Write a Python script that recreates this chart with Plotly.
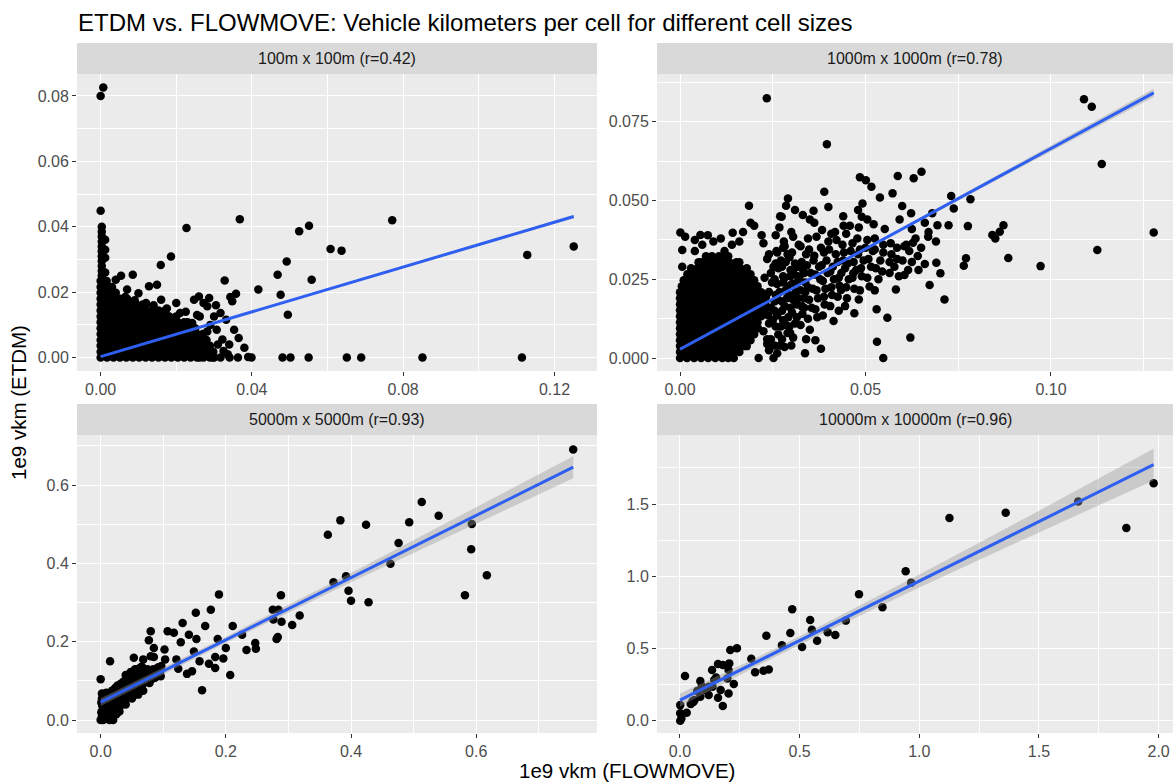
import plotly.graph_objects as go

W, H = 1173, 782
FONT = "Liberation Sans, Arial, Helvetica, sans-serif"

# ---------------- data (1e9 vkm) ----------------
titles = ["100m x 100m (r=0.42)", "1000m x 1000m (r=0.78)",
          "5000m x 5000m (r=0.93)", "10000m x 10000m (r=0.96)"]

# 100m x 100m: scattered points
tl_x = [0.0007, 0.0000, 0.0000, 0.1251, 0.1128, 0.1114, 0.0851, 0.0771, 0.0689, 0.0651,
        0.0637, 0.0608, 0.0558, 0.0551, 0.0550, 0.0525, 0.0502, 0.0495, 0.0492, 0.0481,
        0.0476, 0.0468, 0.0417, 0.0399, 0.0390, 0.0368, 0.0363, 0.0358, 0.0348, 0.0343,
        0.0341, 0.0328, 0.0317, 0.0297, 0.0262, 0.0227, 0.0186, 0.0159, 0.0085, 0.0054,
        0.0003, 0.0003, 0.0003, 0.0003, 0.0003, 0.0003, 0.0003, 0.0003, 0.0003, 0.0003,
        0.0003, 0.0003, 0.0012, 0.0012, 0.0012, 0.0012,
        0.0128, 0.0040, 0.0070, 0.0100, 0.0120, 0.0160, 0.0149, 0.0200, 0.0210, 0.0247,
        0.0260, 0.0272, 0.0287, 0.0282, 0.0300, 0.0317, 0.0332, 0.0353, 0.0307, 0.0282,
        0.0322, 0.0242, 0.0232, 0.0181, 0.0262, 0.0340, 0.0365, 0.0380, 0.0305,
        0.0065, 0.0090, 0.0140, 0.0175, 0.0225, 0.0255, 0.0290, 0.0310, 0.0325, 0.0336]
tl_y = [0.0826, 0.0800, 0.0449, 0.0340, 0.0314, 0.0000, 0.0000, 0.0420, 0.0000, 0.0000,
        0.0327, 0.0332, 0.0238, 0.0403, 0.0000, 0.0386, 0.0000, 0.0131, 0.0294, 0.0000,
        0.0192, 0.0253, 0.0208, 0.0000, 0.0002, 0.0423, 0.0000, 0.0195, 0.0172, 0.0185,
        0.0000, 0.0236, 0.0000, 0.0000, 0.0000, 0.0396, 0.0309, 0.0283, 0.0253, 0.0250,
        0.0400, 0.0385, 0.0370, 0.0355, 0.0340, 0.0325, 0.0310, 0.0295, 0.0280, 0.0265,
        0.0250, 0.0235, 0.0360, 0.0330, 0.0305, 0.0260,
        0.0218, 0.0238, 0.0208, 0.0197, 0.0167, 0.0177, 0.0223, 0.0167, 0.0136, 0.0177,
        0.0187, 0.0167, 0.0182, 0.0157, 0.0126, 0.0136, 0.0116, 0.0085, 0.0085, 0.0080,
        0.0055, 0.0106, 0.0075, 0.0126, 0.0126, 0.0040, 0.0060, 0.0030, 0.0160,
        0.0185, 0.0175, 0.0160, 0.0150, 0.0140, 0.0130, 0.0100, 0.0040, 0.0020, 0.0010]
# 100m x 100m: solid mass near the origin, row by row
tl_rows_y = [0.0000, 0.0018, 0.0036, 0.0054, 0.0072, 0.0090, 0.0108, 0.0126, 0.0144,
             0.0162, 0.0180, 0.0198, 0.0216, 0.0234]
tl_rows_x = [
    [0.0000, 0.0017, 0.0034, 0.0051, 0.0068, 0.0085, 0.0102, 0.0119, 0.0136, 0.0153,
     0.0170, 0.0187, 0.0204, 0.0221, 0.0238, 0.0255, 0.0272, 0.0289, 0.0300],
    [0.0000, 0.0009, 0.0026, 0.0043, 0.0060, 0.0077, 0.0094, 0.0111, 0.0128, 0.0145,
     0.0162, 0.0179, 0.0196, 0.0213, 0.0230, 0.0247, 0.0264, 0.0281, 0.0298],
    [0.0000, 0.0017, 0.0034, 0.0051, 0.0068, 0.0085, 0.0102, 0.0119, 0.0136, 0.0153,
     0.0170, 0.0187, 0.0204, 0.0221, 0.0238, 0.0255, 0.0272, 0.0289],
    [0.0000, 0.0009, 0.0026, 0.0043, 0.0060, 0.0077, 0.0094, 0.0111, 0.0128, 0.0145,
     0.0162, 0.0179, 0.0196, 0.0213, 0.0230, 0.0247, 0.0264, 0.0280],
    [0.0000, 0.0017, 0.0034, 0.0051, 0.0068, 0.0085, 0.0102, 0.0119, 0.0136, 0.0153,
     0.0170, 0.0187, 0.0204, 0.0221, 0.0238, 0.0255, 0.0270],
    [0.0000, 0.0009, 0.0026, 0.0043, 0.0060, 0.0077, 0.0094, 0.0111, 0.0128, 0.0145,
     0.0162, 0.0179, 0.0196, 0.0213, 0.0230, 0.0250],
    [0.0000, 0.0017, 0.0034, 0.0051, 0.0068, 0.0085, 0.0102, 0.0119, 0.0136, 0.0153,
     0.0170, 0.0187, 0.0204, 0.0221, 0.0230],
    [0.0000, 0.0009, 0.0026, 0.0043, 0.0060, 0.0077, 0.0094, 0.0111, 0.0128, 0.0145,
     0.0162, 0.0179, 0.0200],
    [0.0000, 0.0017, 0.0034, 0.0051, 0.0068, 0.0085, 0.0102, 0.0119, 0.0136, 0.0153,
     0.0170],
    [0.0000, 0.0009, 0.0026, 0.0043, 0.0060, 0.0077, 0.0094, 0.0111, 0.0120],
    [0.0000, 0.0017, 0.0034, 0.0051, 0.0070],
    [0.0000, 0.0009, 0.0026, 0.0040],
    [0.0000, 0.0017, 0.0030],
    [0.0000, 0.0009, 0.0016],
]

# 1000m x 1000m: scattered points
tr_x = [0.1277, 0.1137, 0.1125, 0.1110, 0.1089, 0.0972, 0.0885, 0.0872, 0.0862, 0.0850,
        0.0842, 0.0783, 0.0776, 0.0771, 0.0765, 0.0738, 0.0731, 0.0724, 0.0713, 0.0702,
        0.0694, 0.0691, 0.0673, 0.0669, 0.0660, 0.0651, 0.0643, 0.0641, 0.0630, 0.0628,
        0.0623, 0.0621, 0.0618, 0.0605, 0.0599, 0.0592, 0.0587, 0.0582, 0.0573, 0.0559,
        0.0548, 0.0539, 0.0531, 0.0530, 0.0516, 0.0511, 0.0501, 0.0492, 0.0485, 0.0490,
        0.0482, 0.0470, 0.0467, 0.0441, 0.0434, 0.0414, 0.0396, 0.0389, 0.0383, 0.0365,
        0.0360, 0.0337, 0.0331, 0.0297, 0.0291, 0.0286, 0.0274, 0.0252, 0.0240, 0.0234,
        0.0212, 0.0186, 0.0145, 0.0142, 0.0055, 0.0001, 0.0014,
        0.0245, 0.0250, 0.0255, 0.0248, 0.0252, 0.0260, 0.0258,
        0.0270, 0.0272, 0.0275, 0.0268, 0.0278, 0.0272, 0.0280,
        0.0290, 0.0292, 0.0288, 0.0295, 0.0298, 0.0290, 0.0300,
        0.0310, 0.0315, 0.0312, 0.0318, 0.0310, 0.0320,
        0.0330, 0.0335, 0.0338, 0.0332, 0.0340, 0.0345,
        0.0350, 0.0355, 0.0358, 0.0352, 0.0360, 0.0362,
        0.0370, 0.0372, 0.0378, 0.0375, 0.0380,
        0.0390, 0.0392, 0.0398, 0.0395, 0.0400,
        0.0410, 0.0415, 0.0412, 0.0420, 0.0418,
        0.0428, 0.0430, 0.0435, 0.0440, 0.0438,
        0.0450, 0.0455, 0.0452, 0.0460, 0.0458,
        0.0470, 0.0475, 0.0480, 0.0478,
        0.0490, 0.0495, 0.0500, 0.0505,
        0.0515, 0.0520, 0.0525,
        0.0535, 0.0540, 0.0548, 0.0552,
        0.0565, 0.0570, 0.0578, 0.0585, 0.0590,
        0.0600, 0.0610, 0.0615, 0.0625, 0.0635, 0.0650, 0.0660, 0.0670, 0.0680, 0.0690,
        0.0270, 0.0310, 0.0350, 0.0400, 0.0440, 0.0480, 0.0200, 0.0170, 0.0220, 0.0140,
        0.0120, 0.0090, 0.0060, 0.0040, 0.0006, 0.0006, 0.0300, 0.0340, 0.0380,
        0.0235, 0.0225, 0.0238, 0.0232, 0.0228, 0.0235, 0.0225,
        0.0262, 0.0265, 0.0262, 0.0265, 0.0262, 0.0265, 0.0262, 0.0268,
        0.0282, 0.0285, 0.0282, 0.0285, 0.0282, 0.0285, 0.0282,
        0.0305, 0.0302, 0.0305, 0.0302, 0.0305, 0.0302, 0.0305,
        0.0325, 0.0328, 0.0325, 0.0322, 0.0328, 0.0325,
        0.0345, 0.0348, 0.0345, 0.0342, 0.0348,
        0.0365, 0.0368, 0.0365, 0.0362, 0.0368,
        0.0385, 0.0388, 0.0385, 0.0382, 0.0388,
        0.0405, 0.0408, 0.0405, 0.0402, 0.0408,
        0.0425, 0.0428, 0.0425, 0.0422,
        0.0445, 0.0448, 0.0445, 0.0442, 0.0448,
        0.0465, 0.0468, 0.0465,
        0.0485, 0.0488, 0.0485, 0.0482,
        0.0505, 0.0508, 0.0505,
        0.0525, 0.0528, 0.0525, 0.0522,
        0.0545, 0.0548, 0.0565, 0.0568, 0.0585, 0.0605, 0.0625,
        0.0235, 0.0240, 0.0245, 0.0240, 0.0245, 0.0240,
        0.0255, 0.0258, 0.0255, 0.0258, 0.0255, 0.0258,
        0.0275, 0.0278, 0.0275, 0.0278, 0.0275, 0.0278,
        0.0295, 0.0298, 0.0295, 0.0298, 0.0295,
        0.0315, 0.0318, 0.0315, 0.0318,
        0.0335, 0.0338, 0.0335,
        0.0040, 0.0075, 0.0110, 0.0160, 0.0190]
tr_y = [0.0399, 0.0616, 0.0343, 0.0798, 0.0822, 0.0292, 0.0318, 0.0422, 0.0401, 0.0380,
        0.0391, 0.0504, 0.0419, 0.0317, 0.0293, 0.0475, 0.0515, 0.0422, 0.0186, 0.0269,
        0.0422, 0.0303, 0.0232, 0.0385, 0.0299, 0.0592, 0.0280, 0.0324, 0.0571, 0.0366,
        0.0460, 0.0065, 0.0340, 0.0264, 0.0483, 0.0440, 0.0578, 0.0218, 0.0523, 0.0128,
        0.0000, 0.0510, 0.0052, 0.0155, 0.0544, 0.0227, 0.0565, 0.0491, 0.0574, 0.0449,
        0.0186, 0.0142, 0.0269, 0.0420, 0.0216, 0.0118, 0.0679, 0.0528, 0.0407, 0.0057,
        0.0468, 0.0015, 0.0454, 0.0080, 0.0507, 0.0484, 0.0449, 0.0000, 0.0025, 0.0825,
        0.0000, 0.0484, 0.0000, 0.0398, 0.0391, 0.0399, 0.0385,
        0.006, 0.012, 0.018, 0.024, 0.029, 0.034, 0.039,
        0.004, 0.010, 0.015, 0.021, 0.026, 0.031, 0.037,
        0.008, 0.013, 0.019, 0.023, 0.028, 0.033, 0.040,
        0.011, 0.017, 0.021, 0.026, 0.030, 0.036,
        0.014, 0.019, 0.024, 0.028, 0.033, 0.038,
        0.009, 0.016, 0.022, 0.027, 0.031, 0.043,
        0.013, 0.019, 0.025, 0.029, 0.035,
        0.017, 0.022, 0.027, 0.031, 0.037,
        0.020, 0.025, 0.029, 0.033, 0.040,
        0.015, 0.023, 0.027, 0.031, 0.036,
        0.019, 0.025, 0.030, 0.034, 0.042,
        0.022, 0.028, 0.033, 0.038,
        0.026, 0.031, 0.035, 0.044,
        0.029, 0.034, 0.038,
        0.025, 0.031, 0.036, 0.041,
        0.027, 0.033, 0.029, 0.035, 0.026,
        0.031, 0.036, 0.028, 0.041, 0.038, 0.035, 0.043, 0.040, 0.046, 0.037,
        0.045, 0.047, 0.044, 0.048, 0.045, 0.047, 0.042, 0.040, 0.039, 0.036,
        0.034, 0.037, 0.036, 0.034, 0.0343, 0.0290, 0.004, 0.006, 0.003,
        0.0045, 0.0085, 0.0135, 0.0195, 0.0255, 0.0315, 0.0365,
        0.0015, 0.0075, 0.0135, 0.0185, 0.0235, 0.0285, 0.0335, 0.0415,
        0.0035, 0.0105, 0.0165, 0.0215, 0.0255, 0.0305, 0.0355,
        0.0065, 0.0145, 0.0185, 0.0235, 0.0275, 0.0335, 0.0385,
        0.0105, 0.0165, 0.0215, 0.0255, 0.0305, 0.0355,
        0.0125, 0.0185, 0.0225, 0.0295, 0.0345,
        0.0155, 0.0215, 0.0265, 0.0325, 0.0385,
        0.0135, 0.0195, 0.0245, 0.0295, 0.0335,
        0.0165, 0.0225, 0.0275, 0.0345, 0.0395,
        0.0195, 0.0255, 0.0305, 0.0375,
        0.0165, 0.0225, 0.0285, 0.0335, 0.0395,
        0.0255, 0.0305, 0.0365,
        0.0215, 0.0285, 0.0345, 0.0415,
        0.0255, 0.0315, 0.0375,
        0.0215, 0.0285, 0.0345, 0.0425,
        0.0275, 0.0335, 0.0305, 0.0365, 0.0315, 0.0355, 0.0305,
        0.0060, 0.0110, 0.0160, 0.0210, 0.0270, 0.0330,
        0.0040, 0.0100, 0.0150, 0.0200, 0.0250, 0.0300,
        0.0060, 0.0120, 0.0180, 0.0240, 0.0290, 0.0350,
        0.0100, 0.0160, 0.0200, 0.0260, 0.0320,
        0.0130, 0.0190, 0.0240, 0.0290,
        0.0160, 0.0210, 0.0270,
        0.0375, 0.0390, 0.0380, 0.0370, 0.0430]
# 1000m x 1000m: solid mass near the origin, row by row
tr_rows_y = [0.0000, 0.0019, 0.0038, 0.0057, 0.0076, 0.0095, 0.0114, 0.0133, 0.0152,
             0.0171, 0.0190, 0.0209, 0.0228, 0.0247, 0.0266, 0.0285, 0.0304, 0.0323]
tr_rows_x = [
    [0.0000, 0.0019, 0.0038, 0.0057, 0.0076, 0.0095, 0.0114, 0.0130],
    [0.0000, 0.0010, 0.0029, 0.0048, 0.0067, 0.0086, 0.0105, 0.0124, 0.0143, 0.0160],
    [0.0000, 0.0019, 0.0038, 0.0057, 0.0076, 0.0095, 0.0114, 0.0133, 0.0152, 0.0171,
     0.0180],
    [0.0000, 0.0010, 0.0029, 0.0048, 0.0067, 0.0086, 0.0105, 0.0124, 0.0143, 0.0162,
     0.0181, 0.0190],
    [0.0000, 0.0019, 0.0038, 0.0057, 0.0076, 0.0095, 0.0114, 0.0133, 0.0152, 0.0171,
     0.0190, 0.0200],
    [0.0000, 0.0010, 0.0029, 0.0048, 0.0067, 0.0086, 0.0105, 0.0124, 0.0143, 0.0162,
     0.0181, 0.0200, 0.0210],
    [0.0000, 0.0019, 0.0038, 0.0057, 0.0076, 0.0095, 0.0114, 0.0133, 0.0152, 0.0171,
     0.0190, 0.0209],
    [0.0000, 0.0010, 0.0029, 0.0048, 0.0067, 0.0086, 0.0105, 0.0124, 0.0143, 0.0162,
     0.0181, 0.0200, 0.0219],
    [0.0000, 0.0019, 0.0038, 0.0057, 0.0076, 0.0095, 0.0114, 0.0133, 0.0152, 0.0171,
     0.0190, 0.0209, 0.0228],
    [0.0000, 0.0010, 0.0029, 0.0048, 0.0067, 0.0086, 0.0105, 0.0124, 0.0143, 0.0162,
     0.0181, 0.0200, 0.0219, 0.0230],
    [0.0000, 0.0019, 0.0038, 0.0057, 0.0076, 0.0095, 0.0114, 0.0133, 0.0152, 0.0171,
     0.0190, 0.0209, 0.0228],
    [0.0000, 0.0010, 0.0029, 0.0048, 0.0067, 0.0086, 0.0105, 0.0124, 0.0143, 0.0162,
     0.0181, 0.0200, 0.0219],
    [0.0005, 0.0019, 0.0038, 0.0057, 0.0076, 0.0095, 0.0114, 0.0133, 0.0152, 0.0171,
     0.0190, 0.0209],
    [0.0010, 0.0029, 0.0048, 0.0067, 0.0086, 0.0105, 0.0124, 0.0143, 0.0162, 0.0181,
     0.0200],
    [0.0020, 0.0038, 0.0057, 0.0076, 0.0095, 0.0114, 0.0133, 0.0152, 0.0171, 0.0190],
    [0.0030, 0.0048, 0.0067, 0.0086, 0.0105, 0.0124, 0.0143, 0.0162, 0.0180],
    [0.0050, 0.0057, 0.0076, 0.0095, 0.0114, 0.0133, 0.0152, 0.0160],
    [0.0070, 0.0086, 0.0105, 0.0124, 0.0130],
]

# 5000m x 5000m
bl_x = [0.755, 0.513, 0.540, 0.493, 0.593, 0.592, 0.617, 0.582, 0.476, 0.463,
        0.424, 0.383, 0.363, 0.372, 0.392, 0.396, 0.400, 0.428, 0.318, 0.306,
        0.289, 0.288, 0.284, 0.275, 0.276, 0.283, 0.281, 0.248, 0.247, 0.233,
        0.226, 0.211, 0.207, 0.200, 0.196, 0.189, 0.187, 0.183, 0.183, 0.176,
        0.173, 0.167, 0.162, 0.158, 0.152, 0.153, 0.149, 0.146, 0.141, 0.138,
        0.131, 0.128, 0.124, 0.121, 0.117, 0.107, 0.103, 0.102, 0.097, 0.096,
        0.088, 0.085, 0.080, 0.077, 0.080, 0.085, 0.068, 0.053, 0.066, 0.057,
        0.015, 0.000,
        0.000, 0.002, 0.003, 0.001, 0.004, 0.006, 0.008, 0.010, 0.012, 0.014,
        0.015, 0.017, 0.019, 0.020, 0.022, 0.024, 0.026, 0.028, 0.030, 0.032,
        0.034, 0.035, 0.037, 0.039, 0.041, 0.043, 0.045, 0.047, 0.049, 0.051,
        0.053, 0.055, 0.057, 0.059, 0.061, 0.063, 0.065, 0.067, 0.069, 0.071,
        0.073, 0.075, 0.077, 0.060, 0.050, 0.040, 0.030, 0.025, 0.018, 0.010,
        0.005, 0.006, 0.013, 0.021, 0.016, 0.009, 0.002, 0.045, 0.038, 0.055,
        0.064, 0.040, 0.048, 0.068, 0.078, 0.082, 0.085, 0.090, 0.095, 0.012,
        0.020, 0.004, 0.008,
        0.001, 0.003, 0.002, 0.005, 0.007, 0.009, 0.011, 0.011, 0.013, 0.016,
        0.018, 0.020, 0.022, 0.024, 0.026, 0.027, 0.029, 0.031, 0.033, 0.034,
        0.036, 0.037, 0.039, 0.041, 0.042, 0.044, 0.046, 0.047, 0.050, 0.052,
        0.054, 0.056, 0.058, 0.060, 0.062, 0.064, 0.066, 0.068, 0.070, 0.072,
        0.074, 0.076, 0.079, 0.081, 0.084, 0.087, 0.092, 0.005, 0.003, 0.008,
        0.015, 0.020, 0.028, 0.035,
        0.010, 0.014, 0.018, 0.023, 0.027, 0.032, 0.036, 0.041, 0.045, 0.049,
        0.053, 0.058, 0.062, 0.003, 0.007, 0.012, 0.017, 0.022, 0.026, 0.031]
bl_y = [0.691, 0.557, 0.522, 0.505, 0.501, 0.436, 0.370, 0.319, 0.452, 0.399,
        0.499, 0.510, 0.473, 0.352, 0.367, 0.330, 0.305, 0.301, 0.267, 0.243,
        0.251, 0.319, 0.282, 0.282, 0.257, 0.212, 0.207, 0.182, 0.197, 0.179,
        0.218, 0.240, 0.115, 0.184, 0.157, 0.321, 0.207, 0.133, 0.161, 0.282,
        0.144, 0.240, 0.076, 0.150, 0.274, 0.207, 0.175, 0.125, 0.218, 0.118,
        0.248, 0.199, 0.131, 0.155, 0.223, 0.227, 0.155, 0.180, 0.138, 0.112,
        0.112, 0.184, 0.227, 0.204, 0.163, 0.161, 0.155, 0.159, 0.136, 0.129,
        0.150, 0.104,
        0.000, 0.010, 0.025, 0.045, 0.060, 0.005, 0.030, 0.050, 0.065, 0.000,
        0.020, 0.040, 0.055, 0.070, 0.030, 0.045, 0.060, 0.075, 0.035, 0.050,
        0.068, 0.085, 0.055, 0.072, 0.090, 0.060, 0.080, 0.100, 0.070, 0.088,
        0.108, 0.075, 0.095, 0.112, 0.085, 0.102, 0.120, 0.090, 0.110, 0.125,
        0.100, 0.130, 0.115, 0.065, 0.055, 0.040, 0.022, 0.015, 0.008, 0.018,
        0.038, 0.050, 0.035, 0.048, 0.062, 0.070, 0.068, 0.100, 0.095, 0.130,
        0.135, 0.115, 0.123, 0.075, 0.095, 0.105, 0.120, 0.115, 0.125, 0.005,
        0.000, 0.000, 0.012,
        0.020, 0.035, 0.055, 0.015, 0.022, 0.040, 0.028, 0.058, 0.048, 0.030,
        0.050, 0.040, 0.062, 0.052, 0.040, 0.070, 0.058, 0.045, 0.075, 0.060,
        0.050, 0.080, 0.065, 0.055, 0.090, 0.072, 0.062, 0.088, 0.080, 0.095,
        0.065, 0.085, 0.102, 0.090, 0.110, 0.095, 0.105, 0.118, 0.100, 0.112,
        0.122, 0.105, 0.125, 0.112, 0.130, 0.108, 0.135, 0.025, 0.005, 0.010,
        0.010, 0.020, 0.030, 0.040,
        0.062, 0.068, 0.075, 0.082, 0.088, 0.093, 0.098, 0.105, 0.110, 0.116,
        0.120, 0.125, 0.130, 0.038, 0.048, 0.056, 0.064, 0.072, 0.080, 0.086]

# 10000m x 10000m
br_x = [1.979, 1.664, 1.865, 1.361, 1.126, 0.943, 0.966, 0.846, 0.748, 0.693,
        0.649, 0.617, 0.573, 0.551, 0.544, 0.510, 0.469, 0.461, 0.426, 0.361,
        0.371, 0.349, 0.314, 0.298, 0.238, 0.210, 0.225, 0.206, 0.203, 0.198,
        0.179, 0.159, 0.203, 0.170, 0.159, 0.179, 0.134, 0.143, 0.121, 0.120,
        0.085, 0.104, 0.072, 0.061, 0.045, 0.053, 0.021, 0.028, 0.001, 0.001,
        0.001, 0.006, 0.085, 0.136, 0.091, 0.151, 0.056]
br_y = [1.644, 1.517, 1.334, 1.440, 1.403, 1.034, 0.956, 0.785, 0.875, 0.693,
        0.593, 0.612, 0.554, 0.630, 0.697, 0.510, 0.771, 0.607, 0.522, 0.589,
        0.355, 0.346, 0.335, 0.429, 0.501, 0.489, 0.254, 0.397, 0.351, 0.293,
        0.386, 0.392, 0.189, 0.212, 0.159, 0.102, 0.351, 0.282, 0.235, 0.178,
        0.275, 0.212, 0.205, 0.143, 0.115, 0.136, 0.309, 0.055, 0.108, 0.051,
        0.000, 0.016, 0.166, 0.235, 0.240, 0.300, 0.130]

# linear fits: intercept, slope, x-extent
fit_intercept = [0.0003, 0.0028, 0.046, 0.143]
fit_slope = [0.3424, 0.6376, 0.7944, 0.8239]
fit_xmax = [0.1251, 0.1277, 0.755, 1.979]
# confidence band half-widths at a few x positions
band_x = [[0, 0.03, 0.06, 0.09, 0.1251],
          [0, 0.03, 0.06, 0.09, 0.1277],
          [0, 0.1, 0.2, 0.4, 0.6, 0.755],
          [0, 0.3, 0.6, 1.0, 1.5, 1.979]]
band_half = [[0.0002, 0.0001, 0.0002, 0.0003, 0.0005],
             [0.0005, 0.0003, 0.0004, 0.0008, 0.0013],
             [0.010, 0.008, 0.008, 0.012, 0.021, 0.028],
             [0.045, 0.030, 0.030, 0.045, 0.075, 0.110]]

# axis settings
x_ranges = [[-0.00625, 0.13125], [-0.0062, 0.1329], [-0.0378, 0.793], [-0.096, 2.06]]
y_ranges = [[-0.0041, 0.0867], [-0.0041, 0.0902], [-0.033, 0.728], [-0.085, 1.978]]
x_dticks = [0.04, 0.05, 0.2, 0.5]
y_dticks = [0.02, 0.025, 0.2, 0.5]
x_formats = [".2f", ".2f", ".1f", ".1f"]
y_formats = [".2f", ".3f", ".1f", ".1f"]

# ---------------- assemble points ----------------
def expand_rows(rows_y, rows_x):
    xs, ys = [], []
    for yv, row in zip(rows_y, rows_x):
        for xv in row:
            xs.append(xv)
            ys.append(yv)
    return xs, ys

tlx2, tly2 = expand_rows(tl_rows_y, tl_rows_x)
trx2, try2 = expand_rows(tr_rows_y, tr_rows_x)
points = [(tl_x + tlx2, tl_y + tly2), (tr_x + trx2, tr_y + try2), (bl_x, bl_y), (br_x, br_y)]

# ---------------- layout geometry (pixels) ----------------
col_px = [(77, 597), (657, 1173)]
row_px = [(74, 371), (435, 733)]
strip_h = 31

fig = go.Figure()
layout_axes = {}
shapes = []
annotations = []

for i in range(4):
    r, c = divmod(i, 2)
    n = i + 1
    xa = "x" if n == 1 else f"x{n}"
    ya = "y" if n == 1 else f"y{n}"
    xs, ys = points[i]

    fig.add_trace(go.Scatter(x=xs, y=ys, mode="markers", xaxis=xa, yaxis=ya,
                             marker=dict(size=8.5, color="black", line=dict(width=0)),
                             showlegend=False, hoverinfo="skip"))
    bx = band_x[i]
    line_y = [fit_intercept[i] + fit_slope[i] * v for v in bx]
    lo = [a - h for a, h in zip(line_y, band_half[i])]
    hi = [a + h for a, h in zip(line_y, band_half[i])]
    fig.add_trace(go.Scatter(x=bx + bx[::-1], y=lo + hi[::-1], fill="toself",
                             fillcolor="rgba(153,153,153,0.4)", line=dict(width=0),
                             mode="lines", xaxis=xa, yaxis=ya, showlegend=False,
                             hoverinfo="skip"))
    lx = [0, fit_xmax[i]]
    ly = [fit_intercept[i] + fit_slope[i] * v for v in lx]
    fig.add_trace(go.Scatter(x=lx, y=ly, mode="lines", xaxis=xa, yaxis=ya,
                             line=dict(color="#2E5FF0", width=3), showlegend=False,
                             hoverinfo="skip"))

    x0p, x1p = col_px[c]
    y0p, y1p = row_px[r]
    xdom = [x0p / W, x1p / W]
    ydom = [1 - y1p / H, 1 - y0p / H]
    common = dict(showgrid=True, gridcolor="white", gridwidth=1.2, zeroline=False,
                  showline=False, ticks="outside", ticklen=4, tickwidth=1,
                  tickcolor="#333333", tick0=0,
                  tickfont=dict(family=FONT, size=16, color="#4D4D4D"))
    layout_axes["xaxis" if n == 1 else f"xaxis{n}"] = dict(
        common, domain=xdom, range=x_ranges[i], dtick=x_dticks[i],
        tickformat=x_formats[i], anchor=ya,
        minor=dict(dtick=x_dticks[i] / 2, tick0=0, showgrid=True, gridcolor="white",
                   gridwidth=0.6, ticks=""))
    layout_axes["yaxis" if n == 1 else f"yaxis{n}"] = dict(
        common, domain=ydom, range=y_ranges[i], dtick=y_dticks[i],
        tickformat=y_formats[i], anchor=xa,
        minor=dict(dtick=y_dticks[i] / 2, tick0=0, showgrid=True, gridcolor="white",
                   gridwidth=0.6, ticks=""))

    # facet strip
    shapes.append(dict(type="rect", xref="paper", yref="paper",
                       x0=x0p / W, x1=x1p / W, y0=1 - y0p / H, y1=1 - (y0p - strip_h) / H,
                       fillcolor="#D9D9D9", line=dict(width=0), layer="below"))
    annotations.append(dict(text=titles[i], xref="paper", yref="paper",
                            x=(x0p + x1p) / 2 / W, y=1 - (y0p - strip_h / 2) / H,
                            xanchor="center", yanchor="middle", showarrow=False,
                            font=dict(family=FONT, size=16, color="#1A1A1A")))

annotations.append(dict(text="ETDM vs. FLOWMOVE: Vehicle kilometers per cell for different cell sizes",
                        xref="paper", yref="paper", x=76 / W, y=1 - 22 / H,
                        xanchor="left", yanchor="middle", showarrow=False,
                        font=dict(family=FONT, size=24, color="black")))
annotations.append(dict(text="1e9 vkm (FLOWMOVE)", xref="paper", yref="paper",
                        x=627 / W, y=1 - 770 / H, xanchor="center", yanchor="middle",
                        showarrow=False, font=dict(family=FONT, size=20.5, color="black")))
annotations.append(dict(text="1e9 vkm (ETDM)", xref="paper", yref="paper",
                        x=18 / W, y=1 - 403 / H, xanchor="center", yanchor="middle",
                        textangle=-90, showarrow=False,
                        font=dict(family=FONT, size=20.5, color="black")))

fig.update_layout(width=W, height=H, margin=dict(l=0, r=0, t=0, b=0),
                  paper_bgcolor="white", plot_bgcolor="#EBEBEB",
                  shapes=shapes, annotations=annotations, showlegend=False,
                  font=dict(family=FONT), **layout_axes)

fig.write_html("out.html")
